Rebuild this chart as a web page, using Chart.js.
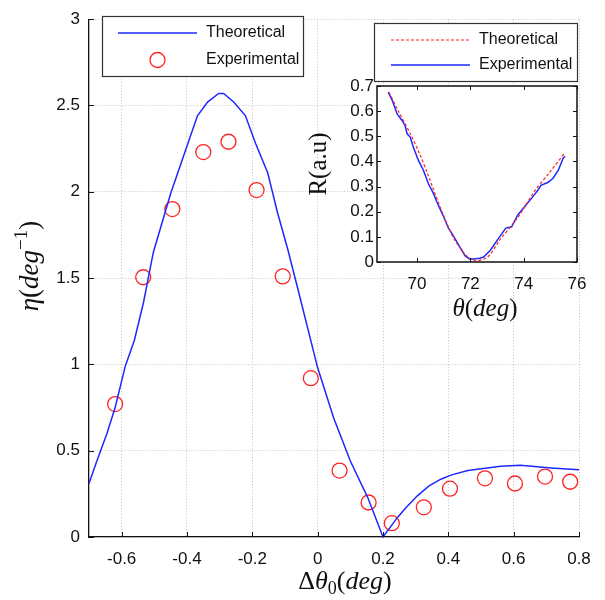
<!DOCTYPE html>
<html>
<head>
<meta charset="utf-8">
<script src="https://cdn.jsdelivr.net/npm/chart.js@4"></script>
<style>
  body { margin: 0; background: #fff; }
  #wrap { position: relative; width: 605px; height: 600px; }
  #mainChart { position: absolute; left: 0; top: 0; }
  #insetChart { position: absolute; left: 300px; top: 0; }
</style>
</head>
<body>
<div id="wrap">
  <canvas id="mainChart" width="605" height="600"></canvas>
  <canvas id="insetChart" width="305" height="340"></canvas>
</div>
<script>
// main plot: efficiency vs detuning
const theoryX = [-0.7, -0.676, -0.645, -0.62, -0.589, -0.561, -0.533, -0.503, -0.45, -0.41, -0.368, -0.337, -0.303, -0.288, -0.257, -0.221, -0.19, -0.153, -0.123, -0.092, -0.061, 0, 0.049, 0.1, 0.153, 0.2, 0.245, 0.27, 0.306, 0.34, 0.377, 0.41, 0.46, 0.56, 0.62, 0.715, 0.8];
const theoryY = [0.31, 0.44, 0.6, 0.75, 0.99, 1.14, 1.36, 1.65, 1.99, 2.21, 2.44, 2.52, 2.57, 2.57, 2.52, 2.44, 2.28, 2.11, 1.88, 1.67, 1.44, 0.98, 0.69, 0.44, 0.23, 0.0, 0.115, 0.17, 0.24, 0.295, 0.335, 0.36, 0.385, 0.41, 0.415, 0.4, 0.39];
const expX = [-0.62, -0.534, -0.445, -0.35, -0.273, -0.187, -0.107, -0.021, 0.067, 0.156, 0.227, 0.325, 0.405, 0.512, 0.604, 0.696, 0.773];
const expY = [0.77, 1.505, 1.9, 2.23, 2.29, 2.01, 1.51, 0.92, 0.385, 0.2, 0.08, 0.172, 0.28, 0.34, 0.31, 0.35, 0.32];
const mainXTicks = [-0.6, -0.4, -0.2, 0, 0.2, 0.4, 0.6, 0.8];
const mainYTicks = [0, 0.5, 1, 1.5, 2, 2.5, 3];

// inset: reflectivity vs angle
const rTheoryTheta = [68.95, 69.3, 69.75, 70.1, 70.4, 70.9, 71.4, 71.9, 72.2, 72.65, 73.1, 73.8, 74.4, 75.0, 75.55];
const rTheory = [0.675, 0.6, 0.51, 0.43, 0.35, 0.21, 0.09, 0.02, 0.005, 0.02, 0.087, 0.18, 0.28, 0.36, 0.435];
const rExpTheta = [68.92, 69.07, 69.25, 69.44, 69.55, 69.63, 69.75, 69.86, 70.05, 70.24, 70.42, 70.61, 70.8, 71.0, 71.18, 71.33, 71.63, 71.8, 71.97, 72.12, 72.35, 72.5, 72.76, 73.03, 73.33, 73.55, 73.78, 74.08, 74.39, 74.54, 74.65, 74.92, 75.1, 75.3, 75.48, 75.55];
const rExp = [0.675, 0.643, 0.59, 0.563, 0.543, 0.51, 0.496, 0.457, 0.405, 0.365, 0.313, 0.274, 0.226, 0.18, 0.135, 0.11, 0.055, 0.025, 0.012, 0.012, 0.015, 0.02, 0.048, 0.09, 0.135, 0.14, 0.187, 0.226, 0.266, 0.286, 0.305, 0.317, 0.333, 0.365, 0.413, 0.42];
const insetXTicks = [70, 72, 74, 76];
const insetYTicks = [0, 0.1, 0.2, 0.3, 0.4, 0.5, 0.6, 0.7];

const BLUE = "rgb(30, 40, 255)";
const RED = "rgb(255, 35, 35)";
const TICK_FONT = { family: "'Liberation Sans', Arial, sans-serif", size: 17 };
const SERIF = "'Liberation Serif', 'Times New Roman', serif";

const toPoints = (xs, ys) => xs.map((x, i) => ({ x: x, y: ys[i] }));
const fixedTicks = (list) => (scale) => {
  scale.ticks = list.map((v) => ({ value: v }));
};

// text made of parts (italic / sup / sub), centred on cx; cy is the baseline
const drawMath = (ctx, parts, cx, cy, size, rotate) => {
  ctx.save();
  ctx.translate(cx, cy);
  if (rotate) ctx.rotate(-Math.PI / 2);
  ctx.fillStyle = "#111";
  ctx.textBaseline = "alphabetic";
  ctx.textAlign = "left";
  const fontOf = (p) =>
    (p.it ? "italic " : "") + Math.round(p.s ? size * 0.7 : size) + "px " + SERIF;
  let total = 0;
  parts.forEach((p) => {
    ctx.font = fontOf(p);
    total += ctx.measureText(p.t).width;
  });
  let x = -total / 2;
  parts.forEach((p) => {
    ctx.font = fontOf(p);
    let dy = p.s === "sup" ? -size * 0.4 : p.s === "sub" ? size * 0.2 : 0;
    ctx.fillText(p.t, x, dy);
    x += ctx.measureText(p.t).width;
  });
  ctx.restore();
};

// small ticks pointing into the plot
const innerTicks = (chart, sides, len) => {
  const { ctx, chartArea: a, scales } = chart;
  ctx.save();
  ctx.strokeStyle = "#111";
  ctx.lineWidth = 1;
  ctx.beginPath();
  scales.x.ticks.forEach((t) => {
    const px = Math.round(scales.x.getPixelForValue(t.value)) + 0.5;
    if (sides.includes("bottom")) { ctx.moveTo(px, a.bottom); ctx.lineTo(px, a.bottom - len); }
    if (sides.includes("top")) { ctx.moveTo(px, a.top); ctx.lineTo(px, a.top + len); }
  });
  scales.y.ticks.forEach((t) => {
    const py = Math.round(scales.y.getPixelForValue(t.value)) + 0.5;
    if (sides.includes("left")) { ctx.moveTo(a.left, py); ctx.lineTo(a.left + len, py); }
    if (sides.includes("right")) { ctx.moveTo(a.right, py); ctx.lineTo(a.right - len, py); }
  });
  ctx.stroke();
  ctx.restore();
};

const boxLegend = {
  id: "boxLegend",
  afterDraw(chart, args, opts) {
    const ctx = chart.ctx;
    const [x1, y1, x2, y2] = opts.box;
    ctx.save();
    ctx.fillStyle = "#fff";
    ctx.fillRect(x1, y1, x2 - x1, y2 - y1);
    ctx.strokeStyle = "#333";
    ctx.lineWidth = 1.2;
    ctx.strokeRect(x1 + 0.5, y1 + 0.5, x2 - x1, y2 - y1);
    ctx.font = "16px 'Liberation Sans', Arial, sans-serif";
    ctx.textBaseline = "middle";
    opts.items.forEach((item) => {
      const ds = chart.data.datasets[item.dataset];
      ctx.strokeStyle = ds.borderColor;
      if (item.marker) {
        ctx.lineWidth = ds.pointBorderWidth;
        ctx.beginPath();
        ctx.arc((opts.lineX[0] + opts.lineX[1]) / 2, item.y, ds.pointRadius, 0, Math.PI * 2);
        ctx.stroke();
      } else {
        ctx.lineWidth = ds.borderWidth;
        ctx.setLineDash(ds.borderDash || []);
        ctx.beginPath();
        ctx.moveTo(opts.lineX[0], item.y);
        ctx.lineTo(opts.lineX[1], item.y);
        ctx.stroke();
        ctx.setLineDash([]);
      }
      ctx.fillStyle = "#111";
      ctx.fillText(ds.label, opts.textX, item.y);
    });
    ctx.restore();
  },
};

const mainDecor = {
  id: "mainDecor",
  afterDraw(chart) {
    innerTicks(chart, ["left", "bottom"], 5);
    const ctx = chart.ctx;
    drawMath(ctx, [
      { t: "Δ" }, { t: "θ", it: true }, { t: "0", s: "sub" },
      { t: "(" }, { t: "deg", it: true }, { t: ")" },
    ], 345, 589, 26, false);
    drawMath(ctx, [
      { t: "η", it: true }, { t: "(" }, { t: "deg", it: true },
      { t: "−1", s: "sup" }, { t: ")" },
    ], 38, 266, 27, true);
  },
};

const insetDecor = {
  id: "insetDecor",
  beforeDraw(chart) {
    const { ctx, chartArea: a } = chart;
    ctx.save();
    ctx.fillStyle = "#fff";
    ctx.fillRect(a.left, a.top, a.right - a.left, a.bottom - a.top);
    ctx.restore();
  },
  afterDraw(chart) {
    const { ctx, chartArea: a } = chart;
    ctx.save();
    ctx.strokeStyle = "#111";
    ctx.lineWidth = 1.5;
    ctx.strokeRect(a.left, a.top, a.right - a.left, a.bottom - a.top);
    ctx.restore();
    innerTicks(chart, ["left", "bottom", "top", "right"], 4);
    drawMath(ctx, [{ t: "θ", it: true }, { t: "(" }, { t: "deg", it: true }, { t: ")" }], 185, 316, 25, false);
    drawMath(ctx, [{ t: "R(a.u)" }], 26, 164, 25, true);
  },
};

new Chart(document.getElementById("mainChart"), {
  type: "scatter",
  data: {
    datasets: [
      {
        label: "Theoretical",
        data: toPoints(theoryX, theoryY),
        showLine: true,
        borderColor: BLUE,
        borderWidth: 1.5,
        pointRadius: 0,
        tension: 0,
      },
      {
        label: "Experimental",
        data: toPoints(expX, expY),
        showLine: false,
        borderColor: RED,
        pointBorderColor: RED,
        pointBackgroundColor: "rgba(0,0,0,0)",
        pointRadius: 7.5,
        pointBorderWidth: 1.3,
      },
    ],
  },
  options: {
    responsive: false,
    animation: false,
    clip: false,
    layout: { padding: { top: 15, right: 26, left: 0, bottom: 0 } },
    plugins: {
      legend: { display: false },
      tooltip: { enabled: false },
      boxLegend: {
        box: [102, 16, 303, 76],
        lineX: [118, 197],
        textX: 206,
        items: [
          { dataset: 0, y: 33 },
          { dataset: 1, y: 60, marker: true },
        ],
      },
    },
    scales: {
      x: {
        type: "linear",
        min: -0.7,
        max: 0.8,
        afterBuildTicks: fixedTicks(mainXTicks),
        afterFit: (scale) => { scale.height = 63; },
        ticks: { font: TICK_FONT, color: "#111", padding: 12, callback: (v) => String(v) },
        grid: { color: "#c2c2c2", lineWidth: 1, drawTicks: false },
        border: { color: "#111", width: 1.3, dash: [1, 2] },
      },
      y: {
        type: "linear",
        min: 0,
        max: 3,
        afterBuildTicks: fixedTicks(mainYTicks),
        afterFit: (scale) => { scale.width = 89; },
        ticks: { font: TICK_FONT, color: "#111", padding: 9, callback: (v) => String(v) },
        grid: { color: "#c2c2c2", lineWidth: 1, drawTicks: false },
        border: { color: "#111", width: 1.3, dash: [1, 2] },
      },
    },
  },
  plugins: [boxLegend, mainDecor],
});

new Chart(document.getElementById("insetChart"), {
  type: "scatter",
  data: {
    datasets: [
      {
        label: "Theoretical",
        data: toPoints(rTheoryTheta, rTheory),
        showLine: true,
        borderColor: RED,
        borderWidth: 1.2,
        borderDash: [3, 2],
        pointRadius: 0,
        tension: 0.3,
      },
      {
        label: "Experimental",
        data: toPoints(rExpTheta, rExp),
        showLine: true,
        borderColor: BLUE,
        borderWidth: 1.5,
        pointRadius: 0,
        tension: 0,
      },
    ],
  },
  options: {
    responsive: false,
    animation: false,
    layout: { padding: { top: 86, right: 28, left: 0, bottom: 0 } },
    plugins: {
      legend: { display: false },
      tooltip: { enabled: false },
      boxLegend: {
        box: [74, 23, 277, 81],
        lineX: [91, 170],
        textX: 179,
        items: [
          { dataset: 0, y: 40 },
          { dataset: 1, y: 65 },
        ],
      },
    },
    scales: {
      x: {
        type: "linear",
        min: 68.5,
        max: 76,
        afterBuildTicks: fixedTicks(insetXTicks),
        afterFit: (scale) => { scale.height = 78; },
        ticks: { font: TICK_FONT, color: "#111", padding: 12, callback: (v) => String(v) },
        grid: { display: false, drawTicks: false },
        border: { display: false },
      },
      y: {
        type: "linear",
        min: 0,
        max: 0.7,
        afterBuildTicks: fixedTicks(insetYTicks),
        afterFit: (scale) => { scale.width = 77; },
        ticks: { font: TICK_FONT, color: "#111", padding: 3, callback: (v) => String(v) },
        grid: { display: false, drawTicks: false },
        border: { display: false },
      },
    },
  },
  plugins: [boxLegend, insetDecor],
});
</script>
</body>
</html>
